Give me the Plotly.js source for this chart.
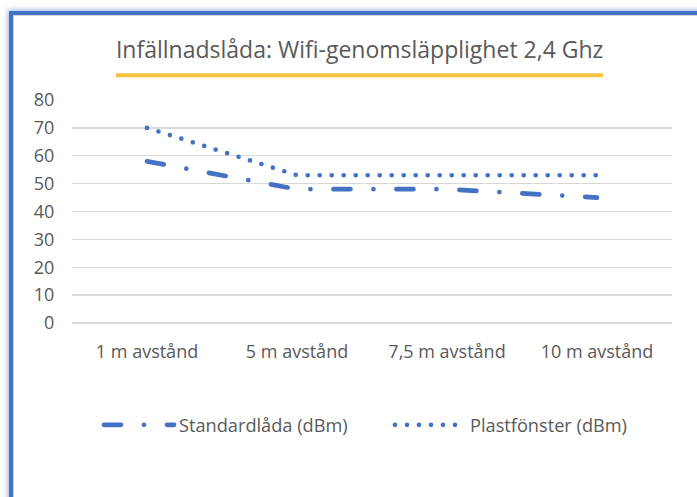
<!DOCTYPE html>
<html>
<head>
<meta charset="utf-8">
<script src="https://cdn.plot.ly/plotly-3.0.1.min.js"></script>
<style>
  html, body { margin:0; padding:0; background:#ffffff; width:697px; height:497px; overflow:hidden; }
  #frame { position:absolute; left:9px; top:11px; width:760px; height:560px;
           border:4.5px solid #4472C4; box-sizing:border-box;
           box-shadow: 0 0 5px 1px rgba(68,114,196,0.55), inset 0 0 0 1px #d4d4d4; background:#fff; }
  #chart { position:absolute; left:0; top:0; width:697px; height:497px; }
  .scatterlayer .js-line, .legendlines path { stroke-linecap: round !important; }
</style>
</head>
<body>
<div id="frame"></div>
<div id="chart"></div>
<script>
const categories = ["1 m avstånd", "5 m avstånd", "7,5 m avstånd", "10 m avstånd"];
const standardlada = [58, 48, 48, 45];
const plastfonster = [70, 53, 53, 53];
const yTicks = [0, 10, 20, 30, 40, 50, 60, 70, 80];

const blue = "#4472C4";
const grey = "#595959";
const fontFam = "Open Sans, Noto Sans, sans-serif";

const traces = [
  { x: categories, y: standardlada, name: "Standardlåda (dBm)", type: "scatter", mode: "lines",
    line: { color: blue, width: 4.7, dash: "17px,23px,0px,23px" }, hoverinfo: "skip" },
  { x: categories, y: plastfonster, name: "Plastfönster (dBm)", type: "scatter", mode: "lines",
    line: { color: blue, width: 4.7, dash: "0px,12px" }, hoverinfo: "skip" }
];

const layout = {
  width: 697, height: 497,
  margin: { l: 72, r: 25, t: 100, b: 174 },
  paper_bgcolor: "rgba(0,0,0,0)", plot_bgcolor: "rgba(0,0,0,0)",
  font: { family: fontFam, color: grey, size: 18 },
  title: { text: "Infällnadslåda: Wifi-genomsläpplighet 2,4 Ghz",
           font: { family: fontFam, size: 23, color: grey },
           xref: "container", x: 0.516, xanchor: "center",
           yref: "container", y: 1 - 50/497, yanchor: "middle" },
  xaxis: { type: "category", range: [-0.5, 3.5], showgrid: false, showline: false, zeroline: false,
           ticks: "outside", ticklen: 12, tickcolor: "rgba(0,0,0,0)",
           tickfont: { family: fontFam, size: 18, color: grey }, fixedrange: true },
  yaxis: { range: [0, 80], tickvals: yTicks, ticktext: yTicks.map(String),
           showgrid: true, gridcolor: "#D9D9D9", gridwidth: 1.3,
           zeroline: true, zerolinecolor: "#D9D9D9", zerolinewidth: 1.3, showline: false,
           ticks: "outside", ticklen: 13, tickcolor: "rgba(0,0,0,0)",
           tickfont: { family: fontFam, size: 18, color: grey }, fixedrange: true },
  legend: { orientation: "h", x: (99 - 72) / 600, xanchor: "left", xref: "paper",
            y: 1 - 425/497, yref: "container", yanchor: "middle",
            font: { family: fontFam, size: 18.2, color: grey }, itemwidth: 70,
            entrywidth: 206, entrywidthmode: "pixels",
            bgcolor: "rgba(0,0,0,0)" },
  shapes: [
    { type: "line", xref: "paper", yref: "paper",
      x0: (116 - 72) / 600, x1: (603 - 72) / 600,
      y0: (323.3 - 75.5) / 223, y1: (323.3 - 75.5) / 223,
      line: { color: "#F4C342", width: 4 } }
  ],
  showlegend: true
};

Plotly.newPlot("chart", traces, layout, { displayModeBar: false, staticPlot: true });
</script>
</body>
</html>
